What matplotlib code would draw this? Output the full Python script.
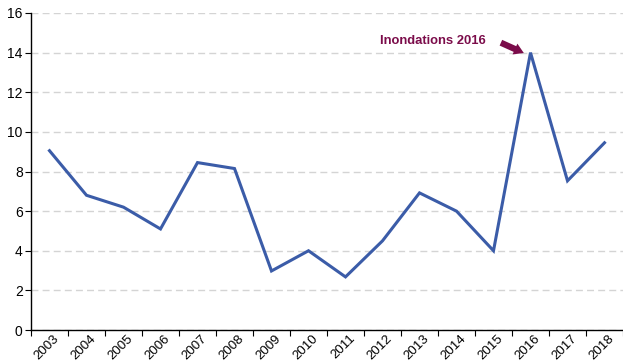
import numpy as np
import matplotlib.pyplot as plt

plt.rcParams['font.family'] = ['Liberation Sans', 'DejaVu Sans']

years = [str(y) for y in range(2003, 2019)]
values = [9.05, 6.8, 6.2, 5.1, 8.45, 8.15, 2.98, 4.0, 2.68, 4.5, 6.92, 6.0, 4.0, 14.0, 7.53, 9.45]

fig = plt.figure(figsize=(6.23, 3.64), dpi=100)
ax = fig.add_axes([31 / 623, 1 - 330 / 364, 1 - 31 / 623, (330 - 13) / 364])

x = np.arange(len(years))
ax.plot(x, values, color='#3b5ca8', lw=2.2, solid_joinstyle='miter', zorder=3)

ax.set_xlim(-0.5, len(years) - 0.5)
ax.set_ylim(0, 16)
ax.set_yticks(np.arange(0, 17, 2))
ax.yaxis.grid(True, color='#d4d4d4', ls=(0, (5, 3)), lw=1)
ax.set_axisbelow(True)

# ticks between categories, labels at the centres
ax.set_xticks(np.arange(-0.5, len(years)), labels=[])
ax.set_xticks(x + 0.1, labels=years, minor=True)
ax.tick_params(axis='x', which='minor', length=0, labelsize=9.5, pad=2)
for lbl in ax.get_xticklabels(minor=True):
    lbl.set_rotation(45)
    lbl.set_ha('right')
    lbl.set_va('top')
    lbl.set_rotation_mode('anchor')
ax.tick_params(axis='x', which='major', length=4, direction='out')
ax.tick_params(axis='y', length=4, labelsize=10, pad=2)

for s in ['top', 'right']:
    ax.spines[s].set_visible(False)
ax.spines['left'].set_linewidth(1)
ax.spines['bottom'].set_linewidth(1)

ax.text(8.93, 14.6, 'Inondations 2016', color='#7b0c4a', fontsize=9.4,
        fontweight='bold', va='center', ha='left')
ax.annotate('', xy=(12.82, 13.98), xytext=(12.2, 14.5),
            arrowprops=dict(arrowstyle='simple,head_length=0.7,head_width=0.85,tail_width=0.45',
                            mutation_scale=10, color='#7b0c4a', lw=0,
                            shrinkA=0, shrinkB=0))

fig.savefig('out.png', dpi=100)
